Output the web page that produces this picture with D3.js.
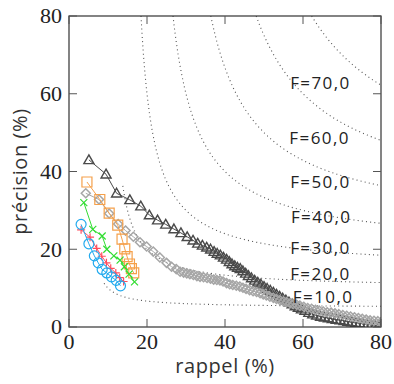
<!DOCTYPE html>
<html><head><meta charset="utf-8">
<script src="https://cdn.jsdelivr.net/npm/d3@7"></script>
<style>
html,body{margin:0;padding:0;background:#fff;}
svg{display:block;}
</style></head>
<body>
<svg id="c" width="394" height="384"></svg>
<script>
// ---- data ----
const xTicks = [0, 20, 40, 60, 80];
const yTicks = [0, 20, 40, 60, 80];
const fValues = [10, 20, 30, 40, 50, 60, 70];
const fStartR = [9, 13.8, 0, 0, 0, 0, 0];
const fLabels = ["F=10,0", "F=20,0", "F=30,0", "F=40,0", "F=50,0", "F=60,0", "F=70,0"];
const fLabelR = [57.4, 56.7, 56.7, 56.9, 56.7, 56.5, 56.7];
const fLabelP = [7.8, 13.6, 20.3, 28.3, 37.3, 48.6, 62.8];

const triangles = [
[5.1,43.0],[9.5,39.3],[12.2,34.4],[15.6,32.7],[18.4,31.1],[20.6,28.8],[22.7,27.5],[24.8,26.4],
[26.9,25.2],[28.7,24.2],[30.3,23.2],[31.8,22.3],[33.0,21.5],[34.2,21.0],[35.3,20.5],[36.3,20.0],
[37.2,19.4],[38.0,18.9],[38.8,18.5],[39.6,17.9],[40.4,17.4],[41.1,16.8],[41.8,16.2],[42.5,15.7],
[43.2,15.3],[43.9,15.0],[44.6,14.4],[45.3,13.8],[46.0,13.2],[46.8,12.6],[47.6,12.0],[48.4,11.5],
[49.2,11.0],[50.0,10.4],[50.8,9.9],[51.6,9.4],[52.4,8.9],[53.2,8.4],[54.0,7.9],[54.8,7.4],
[55.6,6.9],[56.4,6.4],[57.2,5.9],[58.0,5.4],[58.8,5.0],[59.6,4.6],[60.5,4.2],[61.5,3.7],
[62.5,3.3],[63.5,3.0],[64.5,2.7],[65.5,2.5],[66.5,2.3],[67.5,2.1],[68.5,1.9],[69.5,1.8],
[70.5,1.6],[71.5,1.4],[72.5,1.3],[73.5,1.1],[74.5,1.0],[75.5,0.8],[76.5,0.7],[77.5,0.6],
[78.5,0.4],[79.5,0.3],[80.0,0.2]];
const diamonds = [
[4.3,34.4],[7.7,32.8],[10.3,29.2],[12.6,26.5],[14.5,24.8],[16.5,23.2],[18.2,21.8],[19.9,20.7],
[21.6,19.4],[23.3,17.9],[25.0,16.5],[26.3,15.5],[27.5,14.9],[28.5,14.2],[29.4,14.0],[30.2,13.8],
[31.0,13.6],[31.9,13.4],[32.8,13.1],[33.6,12.9],[34.5,12.8],[35.4,12.6],[36.3,12.4],[37.1,12.2],
[37.9,12.1],[38.7,12.0],[39.5,11.7],[40.4,11.3],[41.2,11.0],[42.0,10.8],[42.9,10.6],[43.8,10.4],
[44.6,10.1],[45.4,9.8],[46.3,9.5],[47.2,9.2],[48.1,9.0],[49.0,8.7],[49.8,8.4],[50.6,8.1],
[51.5,7.8],[52.4,7.5],[53.2,7.2],[54.1,6.9],[55.0,6.6],[55.8,6.4],[56.7,6.1],[57.5,5.9],
[58.4,5.7],[59.2,5.5],[60.2,5.2],[61.2,4.9],[62.2,4.7],[63.2,4.4],[64.2,4.2],[65.2,4.0],
[66.2,3.8],[67.2,3.7],[68.2,3.5],[69.2,3.3],[70.2,3.1],[71.2,2.9],[72.2,2.7],[73.2,2.5],
[74.2,2.3],[75.2,2.1],[76.2,1.9],[77.2,1.7],[78.2,1.6],[79.2,1.5],[80.0,1.3]];
const squares = [[4.6,37.3],[7.9,32.8],[10.3,29.3],[12.5,26.2],[13.6,22.6],[14.3,20.1],[14.9,18.1],[15.5,16.2],[16.0,15.0],[16.6,13.9]];
const crosses = [[3.8,32.0],[6.1,25.1],[8.5,23.4],[9.7,20.0],[11.5,18.3],[13.1,17.2],[14.2,15.5],[15.4,13.6],[16.8,11.6]];
const pluses = [[3.1,25.0],[5.4,23.1],[7.1,20.2],[8.4,18.2],[9.6,16.5],[10.7,15.1],[12.0,13.9],[13.0,12.7],[14.0,11.7]];
const circles = [[3.1,26.4],[5.1,21.4],[6.5,18.3],[7.5,16.5],[8.5,14.8],[9.7,13.9],[10.9,12.9],[12.1,12.0],[13.2,10.6]];

// ---- layout ----
const L = 69, R = 381, T = 16, B = 327;
const svg = d3.select("#c");
const x = d3.scaleLinear().domain([0, 80]).range([L, R]);
const y = d3.scaleLinear().domain([0, 80]).range([B, T]);

svg.append("defs").append("clipPath").attr("id", "clip")
  .append("rect").attr("x", L).attr("y", T).attr("width", R - L).attr("height", B - T);
const plot = svg.append("g").attr("clip-path", "url(#clip)");

// iso-F curves
const line = d3.line().x(d => x(d[0])).y(d => y(d[1]));
fValues.forEach((F, i) => {
  const r0 = Math.max(fStartR[i], 80 * F / (160 - F));
  const pts = d3.range(0, 201).map(k => {
    const r = r0 + (80 - r0) * k / 200;
    return [r, F * r / (2 * r - F)];
  });
  plot.append("path").attr("d", line(pts)).attr("fill", "none")
    .attr("stroke", "#555").attr("stroke-width", 1.1).attr("stroke-dasharray", "1,3.2");
});

// F labels
fLabels.forEach((t, i) => {
  svg.append("text").attr("x", x(fLabelR[i])).attr("y", y(fLabelP[i]))
    .attr("dy", "0.36em").attr("font-family", "Open Sans").attr("font-size", 17)
    .attr("letter-spacing", 1.4).attr("fill", "#222").text(t);
});

function series(data, color, shape, size, sw) {
  plot.append("path").attr("d", line(data)).attr("fill", "none")
    .attr("stroke", color).attr("stroke-width", 1);
  const g = plot.append("g");
  data.forEach(d => {
    const cx = x(d[0]), cy = y(d[1]);
    const h = size / 2;
    let p;
    if (shape === "tri") p = `M${cx},${cy - h}L${cx + h},${cy + h * 0.75}L${cx - h},${cy + h * 0.75}Z`;
    else if (shape === "dia") p = `M${cx},${cy - h}L${cx + h},${cy}L${cx},${cy + h}L${cx - h},${cy}Z`;
    else if (shape === "sq") p = `M${cx - h},${cy - h}h${size}v${size}h${-size}Z`;
    else if (shape === "x") p = `M${cx - h},${cy - h}L${cx + h},${cy + h}M${cx - h},${cy + h}L${cx + h},${cy - h}`;
    else if (shape === "plus") p = `M${cx - h},${cy}H${cx + h}M${cx},${cy - h}V${cy + h}`;
    if (shape === "circ") g.append("circle").attr("cx", cx).attr("cy", cy).attr("r", h)
      .attr("fill", "none").attr("stroke", color).attr("stroke-width", sw);
    else g.append("path").attr("d", p).attr("fill", "none").attr("stroke", color).attr("stroke-width", sw);
  });
}
series(triangles, "#4a4a4a", "tri", 10, 1.4);
series(diamonds, "#a6a6a6", "dia", 9, 1.5);
series(squares, "#f5a04a", "sq", 10, 1.2);
series(crosses, "#33dd33", "x", 7, 1.2);
series(pluses, "#ff4d5e", "plus", 8, 1.2);
series(circles, "#22aaee", "circ", 10, 1.2);

// frame and ticks
const ax = svg.append("g");
ax.append("rect").attr("x", L).attr("y", T).attr("width", R - L).attr("height", B - T)
  .attr("fill", "none").attr("stroke", "#333").attr("stroke-width", 1.2);
const tl = 8;
xTicks.forEach(v => {
  ax.append("line").attr("x1", x(v)).attr("x2", x(v)).attr("y1", B).attr("y2", B - tl).attr("stroke", "#555");
  ax.append("line").attr("x1", x(v)).attr("x2", x(v)).attr("y1", T).attr("y2", T + tl).attr("stroke", "#555");
  ax.append("text").attr("x", x(v)).attr("y", 349).attr("text-anchor", "middle")
    .attr("font-family", "Liberation Serif").attr("font-size", 22).attr("fill", "#222").text(v);
});
yTicks.forEach(v => {
  ax.append("line").attr("y1", y(v)).attr("y2", y(v)).attr("x1", L).attr("x2", L + tl).attr("stroke", "#555");
  ax.append("line").attr("y1", y(v)).attr("y2", y(v)).attr("x1", R).attr("x2", R - tl).attr("stroke", "#555");
  ax.append("text").attr("x", 62).attr("y", y(v)).attr("dy", "0.34em").attr("text-anchor", "end")
    .attr("font-family", "Liberation Serif").attr("font-size", 22).attr("fill", "#222").text(v);
});

svg.append("text").attr("x", (L + R) / 2).attr("y", 373).attr("text-anchor", "middle")
  .attr("font-family", "Open Sans").attr("font-size", 20).attr("letter-spacing", 0.6)
  .attr("fill", "#333").text("rappel (%)");
svg.append("text").attr("transform", `translate(27,${(T + B) / 2}) rotate(-90)`).attr("text-anchor", "middle")
  .attr("font-family", "Open Sans").attr("font-size", 20).attr("letter-spacing", 0.6)
  .attr("fill", "#333").text("précision (%)");
</script>
</body></html>
